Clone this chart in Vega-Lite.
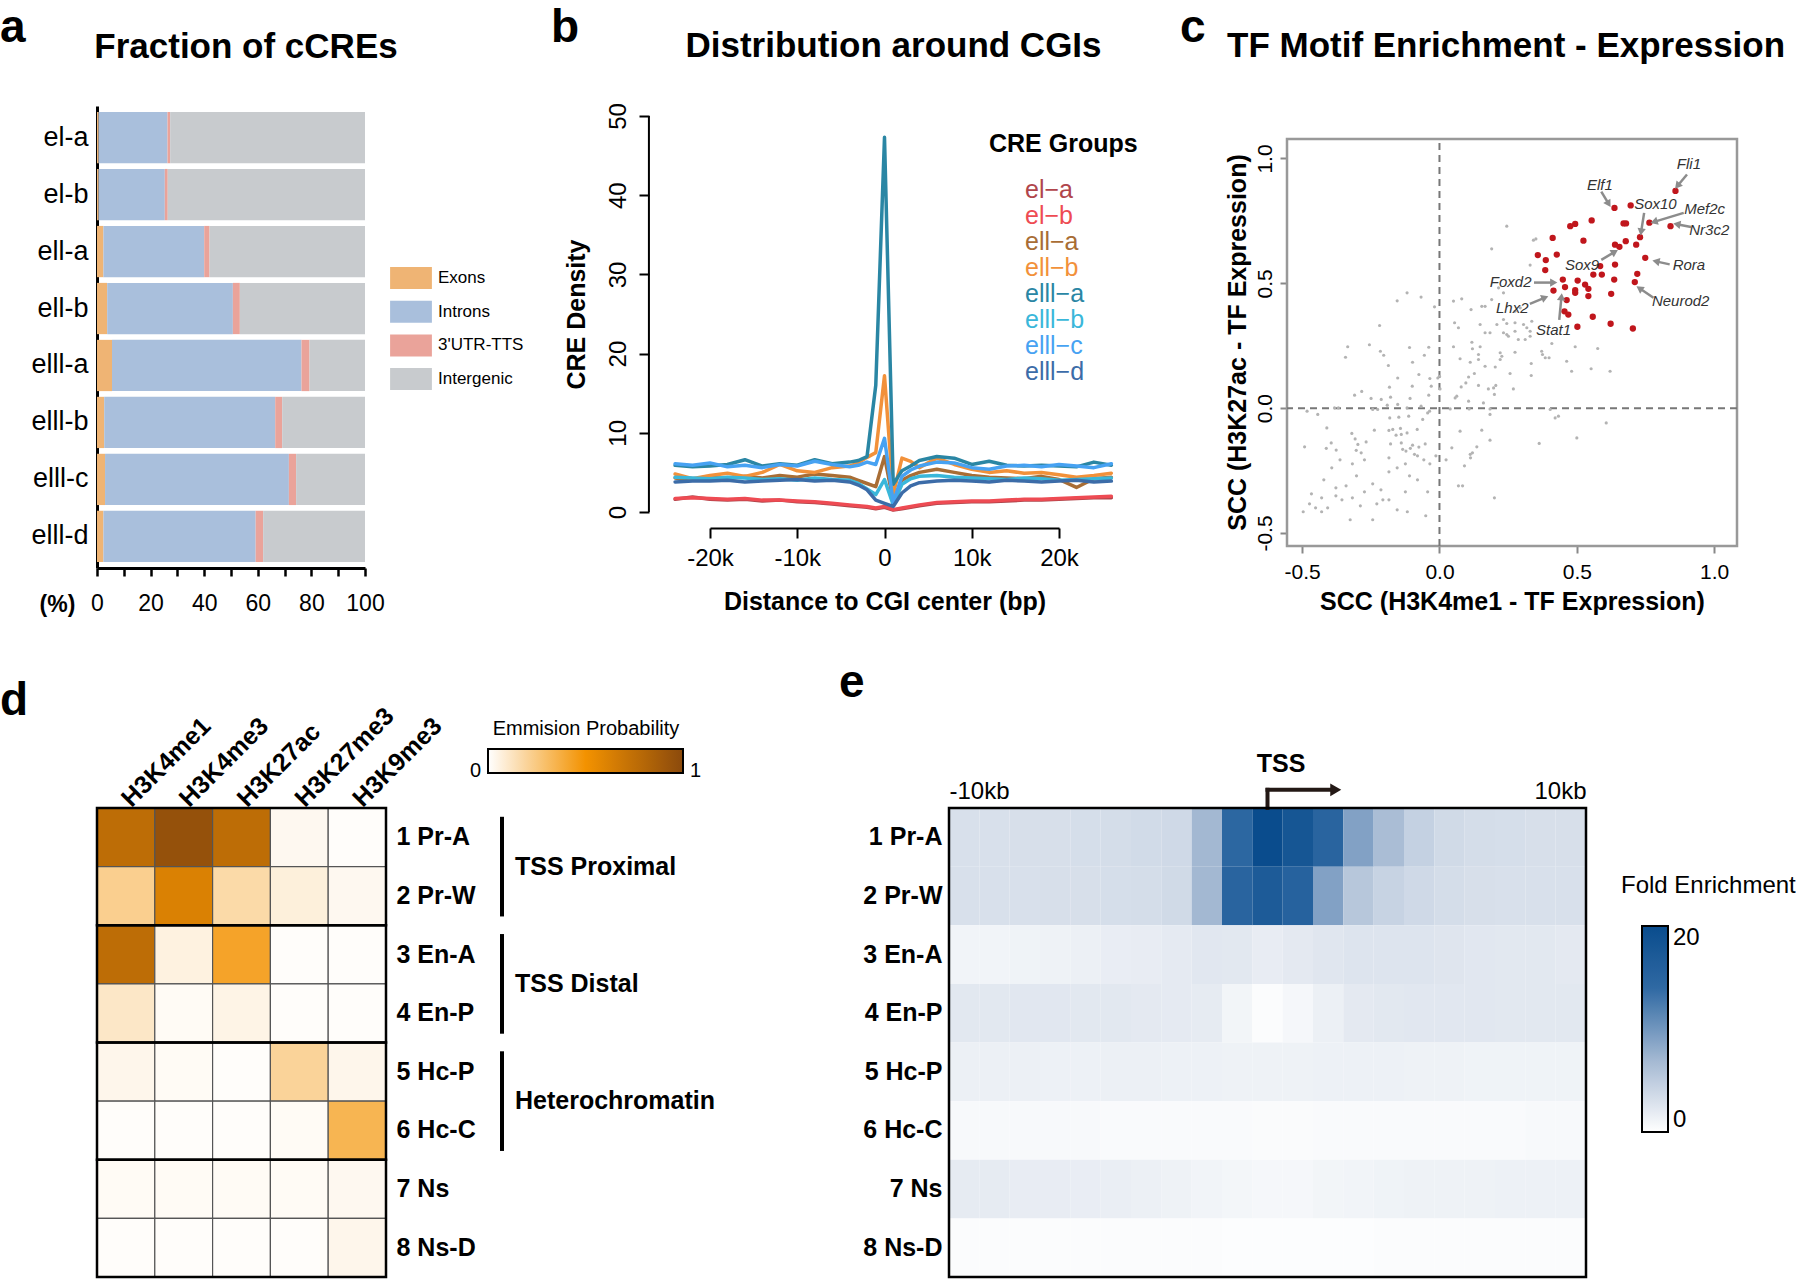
{
"$schema": "https://vega.github.io/schema/vega-lite/v6.json",
"background": "white",
"padding": {"left": 0, "top": 5, "right": 0, "bottom": 0},
"config": {
 "font": "Liberation Sans",
 "view": {"stroke": null},
 "axis": {"grid": false, "labelColor": "black", "titleColor": "black", "domainColor": "black", "tickColor": "black", "labelFont": "Liberation Sans", "titleFont": "Liberation Sans"},
 "legend": {"labelFont": "Liberation Sans", "titleFont": "Liberation Sans", "labelColor": "black", "titleColor": "black", "titleLimit": 400},
 "title": {"font": "Liberation Sans", "color": "black"}
},
"datasets": {
 "a": [
  {"group":"el-a","region":"Exons","pct":0.6},{"group":"el-a","region":"Introns","pct":25.7},{"group":"el-a","region":"3'UTR-TTS","pct":1.0},{"group":"el-a","region":"Intergenic","pct":72.7},
  {"group":"el-b","region":"Exons","pct":0.6},{"group":"el-b","region":"Introns","pct":24.7},{"group":"el-b","region":"3'UTR-TTS","pct":1.1},{"group":"el-b","region":"Intergenic","pct":73.6},
  {"group":"ell-a","region":"Exons","pct":2.4},{"group":"ell-a","region":"Introns","pct":37.6},{"group":"ell-a","region":"3'UTR-TTS","pct":2.0},{"group":"ell-a","region":"Intergenic","pct":58.0},
  {"group":"ell-b","region":"Exons","pct":3.8},{"group":"ell-b","region":"Introns","pct":46.9},{"group":"ell-b","region":"3'UTR-TTS","pct":2.6},{"group":"ell-b","region":"Intergenic","pct":46.7},
  {"group":"elll-a","region":"Exons","pct":5.6},{"group":"elll-a","region":"Introns","pct":70.7},{"group":"elll-a","region":"3'UTR-TTS","pct":3.0},{"group":"elll-a","region":"Intergenic","pct":20.7},
  {"group":"elll-b","region":"Exons","pct":2.7},{"group":"elll-b","region":"Introns","pct":63.8},{"group":"elll-b","region":"3'UTR-TTS","pct":2.6},{"group":"elll-b","region":"Intergenic","pct":30.9},
  {"group":"elll-c","region":"Exons","pct":3.0},{"group":"elll-c","region":"Introns","pct":68.6},{"group":"elll-c","region":"3'UTR-TTS","pct":2.7},{"group":"elll-c","region":"Intergenic","pct":25.7},
  {"group":"elll-d","region":"Exons","pct":2.4},{"group":"elll-d","region":"Introns","pct":56.8},{"group":"elll-d","region":"3'UTR-TTS","pct":2.8},{"group":"elll-d","region":"Intergenic","pct":38.0}
 ],
 "b": [
  {"g":"el−a","x":-24000,"y":1.6},{"g":"el−a","x":-22000,"y":1.9},{"g":"el−a","x":-20000,"y":1.6},{"g":"el−a","x":-18000,"y":1.5},{"g":"el−a","x":-16000,"y":1.6},{"g":"el−a","x":-14000,"y":1.4},{"g":"el−a","x":-12000,"y":1.5},{"g":"el−a","x":-10000,"y":1.3},{"g":"el−a","x":-8000,"y":1.2},{"g":"el−a","x":-6000,"y":1.0},{"g":"el−a","x":-4000,"y":0.8},{"g":"el−a","x":-3000,"y":0.7},{"g":"el−a","x":-2000,"y":0.6},{"g":"el−a","x":-1000,"y":0.4},{"g":"el−a","x":0,"y":0.6},{"g":"el−a","x":1000,"y":0.25},{"g":"el−a","x":2000,"y":0.4},{"g":"el−a","x":3000,"y":0.6},{"g":"el−a","x":4000,"y":0.8},{"g":"el−a","x":6000,"y":1.1},{"g":"el−a","x":8000,"y":1.2},{"g":"el−a","x":10000,"y":1.3},{"g":"el−a","x":12000,"y":1.3},{"g":"el−a","x":14000,"y":1.4},{"g":"el−a","x":16000,"y":1.5},{"g":"el−a","x":18000,"y":1.5},{"g":"el−a","x":20000,"y":1.6},{"g":"el−a","x":22000,"y":1.7},{"g":"el−a","x":24000,"y":1.8},{"g":"el−a","x":26000,"y":1.8},
  {"g":"el−b","x":-24000,"y":1.7},{"g":"el−b","x":-22000,"y":1.8},{"g":"el−b","x":-20000,"y":1.7},{"g":"el−b","x":-18000,"y":1.6},{"g":"el−b","x":-16000,"y":1.7},{"g":"el−b","x":-14000,"y":1.5},{"g":"el−b","x":-12000,"y":1.5},{"g":"el−b","x":-10000,"y":1.4},{"g":"el−b","x":-8000,"y":1.3},{"g":"el−b","x":-6000,"y":1.1},{"g":"el−b","x":-4000,"y":0.9},{"g":"el−b","x":-3000,"y":0.8},{"g":"el−b","x":-2000,"y":0.7},{"g":"el−b","x":-1000,"y":0.5},{"g":"el−b","x":0,"y":0.7},{"g":"el−b","x":1000,"y":0.3},{"g":"el−b","x":2000,"y":0.5},{"g":"el−b","x":3000,"y":0.7},{"g":"el−b","x":4000,"y":0.9},{"g":"el−b","x":6000,"y":1.2},{"g":"el−b","x":8000,"y":1.3},{"g":"el−b","x":10000,"y":1.4},{"g":"el−b","x":12000,"y":1.4},{"g":"el−b","x":14000,"y":1.5},{"g":"el−b","x":16000,"y":1.6},{"g":"el−b","x":18000,"y":1.6},{"g":"el−b","x":20000,"y":1.7},{"g":"el−b","x":22000,"y":1.8},{"g":"el−b","x":24000,"y":1.9},{"g":"el−b","x":26000,"y":2.0},
  {"g":"ell−a","x":-24000,"y":4.3},{"g":"ell−a","x":-22000,"y":4.0},{"g":"ell−a","x":-20000,"y":4.4},{"g":"ell−a","x":-18000,"y":4.2},{"g":"ell−a","x":-16000,"y":4.5},{"g":"ell−a","x":-14000,"y":4.3},{"g":"ell−a","x":-12000,"y":4.6},{"g":"ell−a","x":-10000,"y":4.4},{"g":"ell−a","x":-8000,"y":4.8},{"g":"ell−a","x":-6000,"y":4.6},{"g":"ell−a","x":-4000,"y":4.4},{"g":"ell−a","x":-3000,"y":4.0},{"g":"ell−a","x":-2000,"y":3.6},{"g":"ell−a","x":-1000,"y":3.2},{"g":"ell−a","x":0,"y":7.0},{"g":"ell−a","x":1000,"y":1.4},{"g":"ell−a","x":2000,"y":4.0},{"g":"ell−a","x":3000,"y":4.6},{"g":"ell−a","x":4000,"y":5.0},{"g":"ell−a","x":6000,"y":5.4},{"g":"ell−a","x":8000,"y":5.0},{"g":"ell−a","x":10000,"y":4.6},{"g":"ell−a","x":12000,"y":4.4},{"g":"ell−a","x":14000,"y":4.3},{"g":"ell−a","x":16000,"y":4.2},{"g":"ell−a","x":18000,"y":4.5},{"g":"ell−a","x":20000,"y":4.1},{"g":"ell−a","x":22000,"y":3.1},{"g":"ell−a","x":24000,"y":4.2},{"g":"ell−a","x":26000,"y":4.4},
  {"g":"ell−b","x":-24000,"y":4.8},{"g":"ell−b","x":-22000,"y":4.2},{"g":"ell−b","x":-20000,"y":4.6},{"g":"ell−b","x":-18000,"y":4.9},{"g":"ell−b","x":-16000,"y":4.5},{"g":"ell−b","x":-14000,"y":5.0},{"g":"ell−b","x":-12000,"y":6.0},{"g":"ell−b","x":-10000,"y":5.2},{"g":"ell−b","x":-8000,"y":5.0},{"g":"ell−b","x":-6000,"y":5.6},{"g":"ell−b","x":-4000,"y":5.8},{"g":"ell−b","x":-3000,"y":6.2},{"g":"ell−b","x":-2000,"y":6.9},{"g":"ell−b","x":-1000,"y":7.5},{"g":"ell−b","x":0,"y":17.2},{"g":"ell−b","x":1000,"y":2.2},{"g":"ell−b","x":2000,"y":6.8},{"g":"ell−b","x":3000,"y":6.4},{"g":"ell−b","x":4000,"y":5.6},{"g":"ell−b","x":6000,"y":6.8},{"g":"ell−b","x":8000,"y":6.0},{"g":"ell−b","x":10000,"y":5.4},{"g":"ell−b","x":12000,"y":5.0},{"g":"ell−b","x":14000,"y":5.2},{"g":"ell−b","x":16000,"y":4.9},{"g":"ell−b","x":18000,"y":5.0},{"g":"ell−b","x":20000,"y":4.7},{"g":"ell−b","x":22000,"y":4.4},{"g":"ell−b","x":24000,"y":4.6},{"g":"ell−b","x":26000,"y":4.9},
  {"g":"elll−a","x":-24000,"y":5.9},{"g":"elll−a","x":-22000,"y":5.7},{"g":"elll−a","x":-20000,"y":5.8},{"g":"elll−a","x":-18000,"y":6.0},{"g":"elll−a","x":-16000,"y":6.6},{"g":"elll−a","x":-14000,"y":5.8},{"g":"elll−a","x":-12000,"y":6.1},{"g":"elll−a","x":-10000,"y":5.9},{"g":"elll−a","x":-8000,"y":6.6},{"g":"elll−a","x":-6000,"y":6.1},{"g":"elll−a","x":-4000,"y":6.3},{"g":"elll−a","x":-3000,"y":6.5},{"g":"elll−a","x":-2000,"y":7.0},{"g":"elll−a","x":-1000,"y":16.0},{"g":"elll−a","x":0,"y":47.3},{"g":"elll−a","x":1000,"y":3.5},{"g":"elll−a","x":2000,"y":5.2},{"g":"elll−a","x":3000,"y":5.8},{"g":"elll−a","x":4000,"y":6.5},{"g":"elll−a","x":6000,"y":7.0},{"g":"elll−a","x":8000,"y":6.8},{"g":"elll−a","x":10000,"y":6.0},{"g":"elll−a","x":12000,"y":6.4},{"g":"elll−a","x":14000,"y":5.9},{"g":"elll−a","x":16000,"y":5.8},{"g":"elll−a","x":18000,"y":5.9},{"g":"elll−a","x":20000,"y":5.8},{"g":"elll−a","x":22000,"y":5.7},{"g":"elll−a","x":24000,"y":6.3},{"g":"elll−a","x":26000,"y":5.9},
  {"g":"elll−b","x":-24000,"y":4.4},{"g":"elll−b","x":-22000,"y":4.3},{"g":"elll−b","x":-20000,"y":4.2},{"g":"elll−b","x":-18000,"y":4.4},{"g":"elll−b","x":-16000,"y":4.3},{"g":"elll−b","x":-14000,"y":4.1},{"g":"elll−b","x":-12000,"y":4.2},{"g":"elll−b","x":-10000,"y":4.0},{"g":"elll−b","x":-8000,"y":4.3},{"g":"elll−b","x":-6000,"y":4.1},{"g":"elll−b","x":-4000,"y":4.0},{"g":"elll−b","x":-3000,"y":3.6},{"g":"elll−b","x":-2000,"y":2.9},{"g":"elll−b","x":-1000,"y":2.2},{"g":"elll−b","x":0,"y":4.1},{"g":"elll−b","x":1000,"y":0.9},{"g":"elll−b","x":2000,"y":3.5},{"g":"elll−b","x":3000,"y":4.2},{"g":"elll−b","x":4000,"y":4.5},{"g":"elll−b","x":6000,"y":4.6},{"g":"elll−b","x":8000,"y":4.4},{"g":"elll−b","x":10000,"y":4.3},{"g":"elll−b","x":12000,"y":4.2},{"g":"elll−b","x":14000,"y":4.1},{"g":"elll−b","x":16000,"y":4.3},{"g":"elll−b","x":18000,"y":4.2},{"g":"elll−b","x":20000,"y":4.0},{"g":"elll−b","x":22000,"y":4.1},{"g":"elll−b","x":24000,"y":4.2},{"g":"elll−b","x":26000,"y":4.3},
  {"g":"elll−c","x":-24000,"y":6.1},{"g":"elll−c","x":-22000,"y":5.9},{"g":"elll−c","x":-20000,"y":6.2},{"g":"elll−c","x":-18000,"y":5.7},{"g":"elll−c","x":-16000,"y":5.9},{"g":"elll−c","x":-14000,"y":5.6},{"g":"elll−c","x":-12000,"y":6.0},{"g":"elll−c","x":-10000,"y":5.8},{"g":"elll−c","x":-8000,"y":6.4},{"g":"elll−c","x":-6000,"y":6.0},{"g":"elll−c","x":-4000,"y":5.7},{"g":"elll−c","x":-3000,"y":5.9},{"g":"elll−c","x":-2000,"y":6.3},{"g":"elll−c","x":-1000,"y":6.0},{"g":"elll−c","x":0,"y":9.3},{"g":"elll−c","x":1000,"y":1.2},{"g":"elll−c","x":2000,"y":4.5},{"g":"elll−c","x":3000,"y":5.3},{"g":"elll−c","x":4000,"y":5.8},{"g":"elll−c","x":6000,"y":6.3},{"g":"elll−c","x":8000,"y":6.2},{"g":"elll−c","x":10000,"y":5.6},{"g":"elll−c","x":12000,"y":5.4},{"g":"elll−c","x":14000,"y":5.8},{"g":"elll−c","x":16000,"y":5.9},{"g":"elll−c","x":18000,"y":5.7},{"g":"elll−c","x":20000,"y":6.0},{"g":"elll−c","x":22000,"y":5.8},{"g":"elll−c","x":24000,"y":5.6},{"g":"elll−c","x":26000,"y":6.1},
  {"g":"elll−d","x":-24000,"y":3.8},{"g":"elll−d","x":-22000,"y":3.9},{"g":"elll−d","x":-20000,"y":3.9},{"g":"elll−d","x":-18000,"y":4.0},{"g":"elll−d","x":-16000,"y":3.8},{"g":"elll−d","x":-14000,"y":3.9},{"g":"elll−d","x":-12000,"y":4.0},{"g":"elll−d","x":-10000,"y":4.1},{"g":"elll−d","x":-8000,"y":3.9},{"g":"elll−d","x":-6000,"y":4.0},{"g":"elll−d","x":-4000,"y":3.8},{"g":"elll−d","x":-3000,"y":3.4},{"g":"elll−d","x":-2000,"y":2.8},{"g":"elll−d","x":-1000,"y":1.5},{"g":"elll−d","x":0,"y":1.1},{"g":"elll−d","x":1000,"y":0.7},{"g":"elll−d","x":2000,"y":2.4},{"g":"elll−d","x":3000,"y":3.3},{"g":"elll−d","x":4000,"y":3.7},{"g":"elll−d","x":6000,"y":3.9},{"g":"elll−d","x":8000,"y":4.0},{"g":"elll−d","x":10000,"y":3.9},{"g":"elll−d","x":12000,"y":3.8},{"g":"elll−d","x":14000,"y":4.0},{"g":"elll−d","x":16000,"y":3.9},{"g":"elll−d","x":18000,"y":3.8},{"g":"elll−d","x":20000,"y":3.9},{"g":"elll−d","x":22000,"y":4.0},{"g":"elll−d","x":24000,"y":3.8},{"g":"elll−d","x":26000,"y":3.9}
 ],
 "cgray": [
  {"x":-0.118,"y":0.462},{"x":-0.154,"y":0.430},{"x":-0.067,"y":0.445},{"x":-0.018,"y":0.406},{"x":-0.218,"y":0.331},{"x":-0.334,"y":0.246},{"x":-0.342,"y":0.204},{"x":-0.255,"y":0.254},{"x":-0.215,"y":0.228},{"x":-0.203,"y":0.212},{"x":-0.109,"y":0.243},{"x":-0.039,"y":0.244},{"x":-0.055,"y":0.212},{"x":-0.186,"y":0.171},{"x":-0.098,"y":0.184},{"x":-0.152,"y":0.121},{"x":-0.075,"y":0.135},{"x":-0.035,"y":0.119},{"x":-0.006,"y":0.121},{"x":0.0,"y":0.128},{"x":-0.182,"y":0.084},{"x":-0.099,"y":0.088},{"x":-0.030,"y":0.088},{"x":-0.309,"y":0.052},{"x":-0.283,"y":0.067},{"x":-0.249,"y":0.039},{"x":-0.212,"y":0.035},{"x":-0.178,"y":0.044},{"x":-0.107,"y":0.039},{"x":-0.039,"y":0.052},{"x":0.002,"y":0.077},{"x":-0.482,"y":-0.012},{"x":-0.443,"y":-0.025},{"x":-0.382,"y":0.001},{"x":-0.368,"y":0.001},{"x":-0.243,"y":-0.005},{"x":-0.225,"y":-0.005},{"x":-0.190,"y":0.012},{"x":-0.152,"y":0.015},{"x":-0.118,"y":0.001},{"x":-0.067,"y":0.008},{"x":-0.043,"y":-0.019},{"x":-0.036,"y":-0.012},{"x":-0.181,"y":-0.039},{"x":-0.148,"y":-0.036},{"x":-0.112,"y":-0.032},{"x":-0.410,"y":-0.079},{"x":-0.319,"y":-0.101},{"x":-0.237,"y":-0.088},{"x":-0.184,"y":-0.089},{"x":-0.170,"y":-0.085},{"x":-0.142,"y":-0.081},{"x":-0.158,"y":-0.108},{"x":-0.139,"y":-0.105},{"x":-0.118,"y":-0.099},{"x":-0.081,"y":-0.085},{"x":-0.061,"y":-0.045},{"x":-0.394,"y":-0.139},{"x":-0.412,"y":-0.161},{"x":-0.376,"y":-0.168},{"x":-0.491,"y":-0.155},{"x":-0.307,"y":-0.123},{"x":-0.297,"y":-0.145},{"x":-0.267,"y":-0.135},{"x":-0.178,"y":-0.143},{"x":-0.139,"y":-0.139},{"x":-0.134,"y":-0.165},{"x":-0.106,"y":-0.161},{"x":-0.098,"y":-0.148},{"x":-0.075,"y":-0.156},{"x":-0.052,"y":-0.143},{"x":-0.303,"y":-0.169},{"x":-0.285,"y":-0.179},{"x":-0.122,"y":-0.172},{"x":-0.091,"y":-0.185},
  {"x":0.051,"y":0.429},{"x":0.081,"y":0.438},{"x":0.190,"y":0.435},{"x":0.215,"y":0.482},{"x":0.233,"y":0.462},{"x":0.154,"y":0.408},{"x":0.166,"y":0.408},{"x":0.115,"y":0.395},{"x":0.275,"y":0.388},{"x":0.294,"y":0.402},{"x":0.055,"y":0.342},{"x":0.069,"y":0.322},{"x":0.148,"y":0.335},{"x":0.209,"y":0.335},{"x":0.233,"y":0.355},{"x":0.245,"y":0.339},{"x":0.275,"y":0.342},{"x":0.306,"y":0.335},{"x":0.336,"y":0.348},{"x":0.318,"y":0.322},{"x":0.166,"y":0.302},{"x":0.184,"y":0.302},{"x":0.233,"y":0.302},{"x":0.275,"y":0.308},{"x":0.330,"y":0.308},{"x":0.245,"y":0.295},{"x":0.251,"y":0.288},{"x":0.287,"y":0.275},{"x":0.312,"y":0.275},{"x":0.330,"y":0.288},{"x":0.051,"y":0.246},{"x":0.118,"y":0.264},{"x":0.120,"y":0.238},{"x":0.148,"y":0.246},{"x":0.275,"y":0.224},{"x":0.372,"y":0.228},{"x":0.375,"y":0.215},{"x":0.385,"y":0.202},{"x":0.399,"y":0.202},{"x":0.409,"y":0.259},{"x":0.494,"y":0.246},{"x":0.576,"y":0.239},{"x":0.075,"y":0.198},{"x":0.112,"y":0.184},{"x":0.142,"y":0.215},{"x":0.142,"y":0.195},{"x":0.221,"y":0.222},{"x":0.227,"y":0.208},{"x":0.221,"y":0.195},{"x":0.166,"y":0.168},{"x":0.203,"y":0.165},{"x":0.257,"y":0.139},{"x":0.334,"y":0.179},{"x":0.334,"y":0.131},{"x":0.463,"y":0.188},{"x":0.481,"y":0.148},{"x":0.552,"y":0.158},{"x":0.621,"y":0.148},{"x":0.127,"y":0.139},{"x":0.106,"y":0.125},{"x":0.096,"y":0.101},{"x":0.079,"y":0.085},{"x":0.142,"y":0.091},{"x":0.178,"y":0.077},{"x":0.197,"y":0.081},{"x":0.205,"y":0.091},{"x":0.269,"y":0.077},{"x":0.200,"y":0.055},{"x":0.057,"y":0.041},{"x":0.063,"y":0.048},{"x":0.106,"y":0.028},{"x":0.160,"y":0.021},{"x":0.184,"y":-0.003},{"x":0.184,"y":-0.025},{"x":0.039,"y":-0.003},{"x":0.108,"y":-0.003},{"x":0.403,"y":-0.005},{"x":0.421,"y":-0.039},{"x":0.433,"y":-0.032},{"x":0.075,"y":-0.092},{"x":0.154,"y":-0.088},{"x":0.184,"y":-0.128},{"x":0.363,"y":-0.141},{"x":0.500,"y":-0.119},{"x":0.607,"y":-0.059},{"x":0.045,"y":-0.159},{"x":0.136,"y":-0.155},{"x":0.112,"y":-0.185},{"x":0.120,"y":-0.179},
  {"x":0.245,"y":0.729},{"x":0.190,"y":0.638},{"x":0.351,"y":0.678},{"x":0.342,"y":0.673},{"x":0.330,"y":0.573},
  {"x":-0.080,"y":-0.191},{"x":-0.057,"y":-0.207},{"x":-0.035,"y":-0.223},{"x":-0.013,"y":-0.191},{"x":-0.124,"y":-0.223},{"x":-0.184,"y":-0.199},{"x":-0.273,"y":-0.207},{"x":-0.317,"y":-0.223},{"x":-0.362,"y":-0.207},{"x":-0.392,"y":-0.239},{"x":-0.421,"y":-0.287},{"x":-0.377,"y":-0.319},{"x":-0.340,"y":-0.311},{"x":-0.302,"y":-0.271},{"x":-0.273,"y":-0.335},{"x":-0.243,"y":-0.303},{"x":-0.213,"y":-0.327},{"x":-0.184,"y":-0.255},{"x":-0.154,"y":-0.239},{"x":-0.109,"y":-0.271},{"x":-0.080,"y":-0.287},{"x":-0.043,"y":-0.335},{"x":-0.124,"y":-0.335},{"x":-0.228,"y":-0.383},{"x":-0.288,"y":-0.391},{"x":-0.317,"y":-0.359},{"x":-0.355,"y":-0.367},{"x":-0.377,"y":-0.351},{"x":-0.429,"y":-0.359},{"x":-0.466,"y":-0.343},{"x":-0.473,"y":-0.383},{"x":-0.451,"y":-0.399},{"x":-0.429,"y":-0.415},{"x":-0.407,"y":-0.399},{"x":-0.496,"y":-0.415},{"x":-0.325,"y":-0.447},{"x":-0.243,"y":-0.447},{"x":-0.206,"y":-0.367},{"x":-0.184,"y":-0.367},{"x":-0.154,"y":-0.407},{"x":-0.117,"y":-0.415},{"x":-0.050,"y":-0.431},{"x":0.024,"y":-0.207},{"x":0.091,"y":-0.231},{"x":0.113,"y":-0.199},{"x":0.084,"y":-0.311},{"x":0.069,"y":-0.311},{"x":0.200,"y":-0.359}
 ],
 "cred": [
  {"x":0.859,"y":0.870},{"x":0.637,"y":0.802},{"x":0.696,"y":0.812},{"x":0.554,"y":0.752},{"x":0.476,"y":0.729},{"x":0.494,"y":0.738},{"x":0.670,"y":0.740},{"x":0.679,"y":0.740},{"x":0.764,"y":0.743},{"x":0.841,"y":0.729},{"x":0.730,"y":0.685},{"x":0.412,"y":0.682},{"x":0.524,"y":0.671},{"x":0.678,"y":0.669},{"x":0.639,"y":0.655},{"x":0.655,"y":0.646},{"x":0.716,"y":0.655},{"x":0.358,"y":0.613},{"x":0.387,"y":0.593},{"x":0.427,"y":0.615},{"x":0.749,"y":0.602},{"x":0.385,"y":0.553},{"x":0.585,"y":0.569},{"x":0.639,"y":0.575},{"x":0.720,"y":0.538},{"x":0.449,"y":0.515},{"x":0.503,"y":0.511},{"x":0.530,"y":0.495},{"x":0.636,"y":0.515},{"x":0.560,"y":0.535},{"x":0.591,"y":0.535},{"x":0.711,"y":0.505},{"x":0.415,"y":0.471},{"x":0.457,"y":0.485},{"x":0.494,"y":0.473},{"x":0.494,"y":0.462},{"x":0.542,"y":0.478},{"x":0.542,"y":0.449},{"x":0.625,"y":0.458},{"x":0.463,"y":0.433},{"x":0.455,"y":0.388},{"x":0.469,"y":0.375},{"x":0.558,"y":0.366},{"x":0.502,"y":0.326},{"x":0.623,"y":0.338},{"x":0.704,"y":0.319}
 ],
 "clab": [
  {"gene":"Fli1","lx":0.908,"ly":0.979,"x1":0.901,"y1":0.936,"x2":0.866,"y2":0.890},
  {"gene":"Elf1","lx":0.584,"ly":0.895,"x1":0.589,"y1":0.867,"x2":0.616,"y2":0.818},
  {"gene":"Sox10","lx":0.786,"ly":0.816,"x1":0.745,"y1":0.782,"x2":0.734,"y2":0.706},
  {"gene":"Mef2c","lx":0.965,"ly":0.797,"x1":0.889,"y1":0.782,"x2":0.781,"y2":0.746},
  {"gene":"Nr3c2","lx":0.982,"ly":0.713,"x1":0.916,"y1":0.726,"x2":0.864,"y2":0.737},
  {"gene":"Rora","lx":0.908,"ly":0.574,"x1":0.838,"y1":0.576,"x2":0.788,"y2":0.588},
  {"gene":"Neurod2","lx":0.878,"ly":0.431,"x1":0.779,"y1":0.442,"x2":0.728,"y2":0.480},
  {"gene":"Sox9","lx":0.519,"ly":0.575,"x1":0.589,"y1":0.594,"x2":0.638,"y2":0.626},
  {"gene":"Foxd2","lx":0.259,"ly":0.505,"x1":0.344,"y1":0.503,"x2":0.416,"y2":0.503},
  {"gene":"Lhx2","lx":0.265,"ly":0.401,"x1":0.329,"y1":0.418,"x2":0.384,"y2":0.443},
  {"gene":"Stat1","lx":0.415,"ly":0.312,"x1":0.436,"y1":0.354,"x2":0.444,"y2":0.446}
 ],
 "d": [
  {"state":"1 Pr-A","mark":"H3K4me1","v":0.76},{"state":"1 Pr-A","mark":"H3K4me3","v":0.95},{"state":"1 Pr-A","mark":"H3K27ac","v":0.76},{"state":"1 Pr-A","mark":"H3K27me3","v":0.03},{"state":"1 Pr-A","mark":"H3K9me3","v":0.01},
  {"state":"2 Pr-W","mark":"H3K4me1","v":0.22},{"state":"2 Pr-W","mark":"H3K4me3","v":0.62},{"state":"2 Pr-W","mark":"H3K27ac","v":0.17},{"state":"2 Pr-W","mark":"H3K27me3","v":0.07},{"state":"2 Pr-W","mark":"H3K9me3","v":0.03},
  {"state":"3 En-A","mark":"H3K4me1","v":0.76},{"state":"3 En-A","mark":"H3K4me3","v":0.06},{"state":"3 En-A","mark":"H3K27ac","v":0.42},{"state":"3 En-A","mark":"H3K27me3","v":0.01},{"state":"3 En-A","mark":"H3K9me3","v":0.01},
  {"state":"4 En-P","mark":"H3K4me1","v":0.11},{"state":"4 En-P","mark":"H3K4me3","v":0.02},{"state":"4 En-P","mark":"H3K27ac","v":0.05},{"state":"4 En-P","mark":"H3K27me3","v":0.01},{"state":"4 En-P","mark":"H3K9me3","v":0.01},
  {"state":"5 Hc-P","mark":"H3K4me1","v":0.04},{"state":"5 Hc-P","mark":"H3K4me3","v":0.02},{"state":"5 Hc-P","mark":"H3K27ac","v":0.01},{"state":"5 Hc-P","mark":"H3K27me3","v":0.2},{"state":"5 Hc-P","mark":"H3K9me3","v":0.04},
  {"state":"6 Hc-C","mark":"H3K4me1","v":0.01},{"state":"6 Hc-C","mark":"H3K4me3","v":0.01},{"state":"6 Hc-C","mark":"H3K27ac","v":0.01},{"state":"6 Hc-C","mark":"H3K27me3","v":0.02},{"state":"6 Hc-C","mark":"H3K9me3","v":0.34},
  {"state":"7 Ns","mark":"H3K4me1","v":0.02},{"state":"7 Ns","mark":"H3K4me3","v":0.02},{"state":"7 Ns","mark":"H3K27ac","v":0.02},{"state":"7 Ns","mark":"H3K27me3","v":0.02},{"state":"7 Ns","mark":"H3K9me3","v":0.03},
  {"state":"8 Ns-D","mark":"H3K4me1","v":0.01},{"state":"8 Ns-D","mark":"H3K4me3","v":0.01},{"state":"8 Ns-D","mark":"H3K27ac","v":0.01},{"state":"8 Ns-D","mark":"H3K27me3","v":0.01},{"state":"8 Ns-D","mark":"H3K9me3","v":0.04}
 ],
 "dbox": [{"grp":"TSS Proximal"},{"grp":"TSS Distal"},{"grp":"Heterochromatin"},{"grp":"Ns"}],
 "dlab": [{"grp":"TSS Proximal"},{"grp":"TSS Distal"},{"grp":"Heterochromatin"}],
 "e": [
  {"state":"1 Pr-A","pos":-10,"v":3.0},{"state":"1 Pr-A","pos":-9,"v":3.0},{"state":"1 Pr-A","pos":-8,"v":3.1},{"state":"1 Pr-A","pos":-7,"v":3.1},{"state":"1 Pr-A","pos":-6,"v":3.2},{"state":"1 Pr-A","pos":-5,"v":3.3},{"state":"1 Pr-A","pos":-4,"v":3.5},{"state":"1 Pr-A","pos":-3,"v":3.7},{"state":"1 Pr-A","pos":-2,"v":7.0},{"state":"1 Pr-A","pos":-1,"v":14.5},{"state":"1 Pr-A","pos":0,"v":20.0},{"state":"1 Pr-A","pos":1,"v":18.0},{"state":"1 Pr-A","pos":2,"v":15.0},{"state":"1 Pr-A","pos":3,"v":9.0},{"state":"1 Pr-A","pos":4,"v":6.5},{"state":"1 Pr-A","pos":5,"v":4.5},{"state":"1 Pr-A","pos":6,"v":3.6},{"state":"1 Pr-A","pos":7,"v":3.3},{"state":"1 Pr-A","pos":8,"v":3.2},{"state":"1 Pr-A","pos":9,"v":3.1},{"state":"1 Pr-A","pos":10,"v":3.1},
  {"state":"2 Pr-W","pos":-10,"v":3.0},{"state":"2 Pr-W","pos":-9,"v":3.0},{"state":"2 Pr-W","pos":-8,"v":3.0},{"state":"2 Pr-W","pos":-7,"v":3.1},{"state":"2 Pr-W","pos":-6,"v":3.1},{"state":"2 Pr-W","pos":-5,"v":3.2},{"state":"2 Pr-W","pos":-4,"v":3.3},{"state":"2 Pr-W","pos":-3,"v":3.6},{"state":"2 Pr-W","pos":-2,"v":7.0},{"state":"2 Pr-W","pos":-1,"v":15.0},{"state":"2 Pr-W","pos":0,"v":17.0},{"state":"2 Pr-W","pos":1,"v":15.5},{"state":"2 Pr-W","pos":2,"v":9.0},{"state":"2 Pr-W","pos":3,"v":5.5},{"state":"2 Pr-W","pos":4,"v":4.3},{"state":"2 Pr-W","pos":5,"v":3.7},{"state":"2 Pr-W","pos":6,"v":3.3},{"state":"2 Pr-W","pos":7,"v":3.1},{"state":"2 Pr-W","pos":8,"v":3.0},{"state":"2 Pr-W","pos":9,"v":3.0},{"state":"2 Pr-W","pos":10,"v":3.0},
  {"state":"3 En-A","pos":-10,"v":1.1},{"state":"3 En-A","pos":-9,"v":1.1},{"state":"3 En-A","pos":-8,"v":1.2},{"state":"3 En-A","pos":-7,"v":1.3},{"state":"3 En-A","pos":-6,"v":1.5},{"state":"3 En-A","pos":-5,"v":1.7},{"state":"3 En-A","pos":-4,"v":1.8},{"state":"3 En-A","pos":-3,"v":2.0},{"state":"3 En-A","pos":-2,"v":2.3},{"state":"3 En-A","pos":-1,"v":2.2},{"state":"3 En-A","pos":0,"v":1.8},{"state":"3 En-A","pos":1,"v":2.1},{"state":"3 En-A","pos":2,"v":2.4},{"state":"3 En-A","pos":3,"v":2.6},{"state":"3 En-A","pos":4,"v":2.6},{"state":"3 En-A","pos":5,"v":2.6},{"state":"3 En-A","pos":6,"v":2.5},{"state":"3 En-A","pos":7,"v":2.3},{"state":"3 En-A","pos":8,"v":2.2},{"state":"3 En-A","pos":9,"v":2.2},{"state":"3 En-A","pos":10,"v":2.1},
  {"state":"4 En-P","pos":-10,"v":2.2},{"state":"4 En-P","pos":-9,"v":2.2},{"state":"4 En-P","pos":-8,"v":2.3},{"state":"4 En-P","pos":-7,"v":2.3},{"state":"4 En-P","pos":-6,"v":2.2},{"state":"4 En-P","pos":-5,"v":2.2},{"state":"4 En-P","pos":-4,"v":2.1},{"state":"4 En-P","pos":-3,"v":2.0},{"state":"4 En-P","pos":-2,"v":1.9},{"state":"4 En-P","pos":-1,"v":1.0},{"state":"4 En-P","pos":0,"v":0.3},{"state":"4 En-P","pos":1,"v":0.8},{"state":"4 En-P","pos":2,"v":1.5},{"state":"4 En-P","pos":3,"v":2.1},{"state":"4 En-P","pos":4,"v":2.2},{"state":"4 En-P","pos":5,"v":2.3},{"state":"4 En-P","pos":6,"v":2.3},{"state":"4 En-P","pos":7,"v":2.3},{"state":"4 En-P","pos":8,"v":2.2},{"state":"4 En-P","pos":9,"v":2.2},{"state":"4 En-P","pos":10,"v":2.2},
  {"state":"5 Hc-P","pos":-10,"v":1.5},{"state":"5 Hc-P","pos":-9,"v":1.5},{"state":"5 Hc-P","pos":-8,"v":1.5},{"state":"5 Hc-P","pos":-7,"v":1.4},{"state":"5 Hc-P","pos":-6,"v":1.4},{"state":"5 Hc-P","pos":-5,"v":1.5},{"state":"5 Hc-P","pos":-4,"v":1.5},{"state":"5 Hc-P","pos":-3,"v":1.4},{"state":"5 Hc-P","pos":-2,"v":1.4},{"state":"5 Hc-P","pos":-1,"v":1.3},{"state":"5 Hc-P","pos":0,"v":1.3},{"state":"5 Hc-P","pos":1,"v":1.3},{"state":"5 Hc-P","pos":2,"v":1.4},{"state":"5 Hc-P","pos":3,"v":1.4},{"state":"5 Hc-P","pos":4,"v":1.4},{"state":"5 Hc-P","pos":5,"v":1.3},{"state":"5 Hc-P","pos":6,"v":1.3},{"state":"5 Hc-P","pos":7,"v":1.2},{"state":"5 Hc-P","pos":8,"v":1.2},{"state":"5 Hc-P","pos":9,"v":1.2},{"state":"5 Hc-P","pos":10,"v":1.2},
  {"state":"6 Hc-C","pos":-10,"v":0.6},{"state":"6 Hc-C","pos":-9,"v":0.6},{"state":"6 Hc-C","pos":-8,"v":0.6},{"state":"6 Hc-C","pos":-7,"v":0.6},{"state":"6 Hc-C","pos":-6,"v":0.6},{"state":"6 Hc-C","pos":-5,"v":0.5},{"state":"6 Hc-C","pos":-4,"v":0.5},{"state":"6 Hc-C","pos":-3,"v":0.5},{"state":"6 Hc-C","pos":-2,"v":0.5},{"state":"6 Hc-C","pos":-1,"v":0.5},{"state":"6 Hc-C","pos":0,"v":0.4},{"state":"6 Hc-C","pos":1,"v":0.4},{"state":"6 Hc-C","pos":2,"v":0.5},{"state":"6 Hc-C","pos":3,"v":0.5},{"state":"6 Hc-C","pos":4,"v":0.5},{"state":"6 Hc-C","pos":5,"v":0.5},{"state":"6 Hc-C","pos":6,"v":0.5},{"state":"6 Hc-C","pos":7,"v":0.5},{"state":"6 Hc-C","pos":8,"v":0.5},{"state":"6 Hc-C","pos":9,"v":0.6},{"state":"6 Hc-C","pos":10,"v":0.6},
  {"state":"7 Ns","pos":-10,"v":1.9},{"state":"7 Ns","pos":-9,"v":1.9},{"state":"7 Ns","pos":-8,"v":1.8},{"state":"7 Ns","pos":-7,"v":1.8},{"state":"7 Ns","pos":-6,"v":1.7},{"state":"7 Ns","pos":-5,"v":1.6},{"state":"7 Ns","pos":-4,"v":1.5},{"state":"7 Ns","pos":-3,"v":1.3},{"state":"7 Ns","pos":-2,"v":1.1},{"state":"7 Ns","pos":-1,"v":0.9},{"state":"7 Ns","pos":0,"v":0.8},{"state":"7 Ns","pos":1,"v":0.8},{"state":"7 Ns","pos":2,"v":1.0},{"state":"7 Ns","pos":3,"v":1.1},{"state":"7 Ns","pos":4,"v":1.2},{"state":"7 Ns","pos":5,"v":1.3},{"state":"7 Ns","pos":6,"v":1.3},{"state":"7 Ns","pos":7,"v":1.3},{"state":"7 Ns","pos":8,"v":1.4},{"state":"7 Ns","pos":9,"v":1.4},{"state":"7 Ns","pos":10,"v":1.4},
  {"state":"8 Ns-D","pos":-10,"v":0.3},{"state":"8 Ns-D","pos":-9,"v":0.3},{"state":"8 Ns-D","pos":-8,"v":0.3},{"state":"8 Ns-D","pos":-7,"v":0.3},{"state":"8 Ns-D","pos":-6,"v":0.3},{"state":"8 Ns-D","pos":-5,"v":0.3},{"state":"8 Ns-D","pos":-4,"v":0.3},{"state":"8 Ns-D","pos":-3,"v":0.3},{"state":"8 Ns-D","pos":-2,"v":0.3},{"state":"8 Ns-D","pos":-1,"v":0.2},{"state":"8 Ns-D","pos":0,"v":0.2},{"state":"8 Ns-D","pos":1,"v":0.2},{"state":"8 Ns-D","pos":2,"v":0.2},{"state":"8 Ns-D","pos":3,"v":0.2},{"state":"8 Ns-D","pos":4,"v":0.3},{"state":"8 Ns-D","pos":5,"v":0.3},{"state":"8 Ns-D","pos":6,"v":0.3},{"state":"8 Ns-D","pos":7,"v":0.3},{"state":"8 Ns-D","pos":8,"v":0.3},{"state":"8 Ns-D","pos":9,"v":0.3},{"state":"8 Ns-D","pos":10,"v":0.3}
 ]
},
"spacing": 44,
"resolve": {"scale": {"color": "independent"}, "legend": {"color": "independent"}},
"vconcat": [
 {
  "bounds": "flush",
  "spacing": 0,
  "resolve": {"scale": {"color": "independent"}, "legend": {"color": "independent"}},
  "hconcat": [
   {"width": 1, "height": 1, "data": {"values": [{}]}, "mark": {"type": "rect", "opacity": 0},
    "title": {"text": "a", "fontSize": 46, "fontWeight": "bold", "anchor": "start", "frame": "group", "baseline": "alphabetic", "offset": 18, "dx": -96}},
   {"width": 268, "height": 462,
    "data": {"name": "a"},
    "transform": [{"calculate": "indexof([\"Exons\",\"Introns\",\"3'UTR-TTS\",\"Intergenic\"], datum.region)", "as": "ord"}],
    "title": {"text": "Fraction of cCREs", "fontSize": 35, "fontWeight": "bold", "anchor": "middle", "frame": "group", "baseline": "alphabetic", "offset": 13.5, "dx": 15},
    "mark": {"type": "bar"},
    "encoding": {
     "y": {"field": "group", "type": "nominal", "sort": ["el-a","el-b","ell-a","ell-b","elll-a","elll-b","elll-c","elll-d"], "scale": {"paddingInner": 0.1, "paddingOuter": 0.105},
           "axis": {"title": null, "ticks": false, "domainWidth": 3, "labelFontSize": 27, "labelPadding": 9}},
     "x": {"field": "pct", "type": "quantitative", "stack": "zero", "scale": {"domain": [0, 100], "nice": false},
           "axis": {"values": [0,10,20,30,40,50,60,70,80,90,100], "labelExpr": "datum.value % 20 === 0 ? datum.label : ''", "labelFlush": false, "labelOverlap": false, "tickSize": 8, "tickWidth": 2.5, "domainWidth": 3, "labelFontSize": 23, "labelPadding": 16, "title": "(%)", "titleFontSize": 23, "titleFontWeight": "bold", "titleX": -40, "titleY": 36, "titleAlign": "center", "titleBaseline": "middle", "titleAngle": 0}},
     "order": {"field": "ord", "type": "quantitative"},
     "color": {"field": "region", "type": "nominal", "sort": ["Exons","Introns","3'UTR-TTS","Intergenic"],
               "scale": {"domain": ["Exons","Introns","3'UTR-TTS","Intergenic"], "range": ["#EFB474","#A9BFDC","#EAA39A","#C8CBCE"]},
               "legend": {"orient": "none", "legendX": 303, "legendY": 161, "title": null, "symbolType": "M-1.9,-1H1.9V1H-1.9Z", "symbolSize": 484, "symbolStrokeWidth": 0, "symbolOpacity": 1, "labelFontSize": 17, "labelOffset": 16, "rowPadding": 11.7, "padding": 0}}
    }
   },
   {"width": 345, "height": 1, "data": {"values": [{}]}, "mark": {"type": "rect", "opacity": 0},
    "title": {"text": "b", "fontSize": 46, "fontWeight": "bold", "anchor": "start", "frame": "group", "baseline": "alphabetic", "offset": 18, "dx": 186}},
   {"width": 349, "height": 406,
    "title": {"text": "Distribution around CGIs", "fontSize": 35, "fontWeight": "bold", "anchor": "middle", "frame": "group", "baseline": "alphabetic", "offset": 10.7, "dx": 9},
    "layer": [
     {"data": {"name": "b"},
      "mark": {"type": "line", "strokeWidth": 3.5, "strokeJoin": "round", "strokeCap": "round"},
      "encoding": {
       "x": {"field": "x", "type": "quantitative", "scale": {"domain": [-20000, 20000], "nice": false, "zero": false},
             "axis": {"values": [-20000,-10000,0,10000,20000], "labelExpr": "datum.value === 0 ? '0' : (datum.value / 1000) + 'k'", "labelFlush": false, "labelOverlap": false, "offset": 16, "tickSize": 10, "tickWidth": 2, "domainWidth": 2, "labelFontSize": 24, "labelPadding": 8, "title": "Distance to CGI center (bp)", "titleFontSize": 25, "titleFontWeight": "bold", "titlePadding": 19}},
       "y": {"field": "y", "type": "quantitative", "scale": {"domain": [0, 51.26], "nice": false},
             "axis": {"values": [0,10,20,30,40,50], "offset": 61, "domain": false, "labelFlush": false, "labelAngle": -90, "labelAlign": "center", "labelBaseline": "bottom", "tickSize": 10, "tickWidth": 2, "labelFontSize": 24, "labelPadding": 9, "title": "CRE Density", "titleFontSize": 25, "titleFontWeight": "bold", "titlePadding": 17, "titleY": 208}},
       "color": {"field": "g", "type": "nominal", "sort": ["el−a","el−b","ell−a","ell−b","elll−a","elll−b","elll−c","elll−d"],
                 "scale": {"domain": ["el−a","el−b","ell−a","ell−b","elll−a","elll−b","elll−c","elll−d"], "range": ["#B0454B","#EE4B53","#A86D35","#F2913A","#2A86A4","#3AB7DA","#47A2F2","#3C6CA8"]},
                 "legend": {"orient": "none", "legendX": 279, "legendY": 26, "title": "CRE Groups", "titleFontSize": 25, "titleFontWeight": "bold", "titlePadding": 20, "labelFontSize": 25, "symbolSize": 0, "symbolOpacity": 0, "symbolStrokeWidth": 0, "labelOffset": 11, "rowPadding": -5, "padding": 0,
                            "encode": {"labels": {"update": {"fill": {"signal": "['#B0454B','#EE4B53','#A86D35','#F2913A','#2A86A4','#3AB7DA','#47A2F2','#3C6CA8'][datum.index]"}}}}}}
      }},
     {"data": {"values": [{}]},
      "mark": {"type": "rule", "color": "black", "strokeWidth": 2},
      "encoding": {
       "x": {"datum": -27000, "type": "quantitative", "scale": {"domain": [-20000, 20000], "nice": false, "zero": false}},
       "y": {"datum": 0, "type": "quantitative", "scale": {"domain": [0, 51.26], "nice": false}},
       "y2": {"datum": 50}
      }}
    ]
   },
   {"width": 228, "height": 1, "data": {"values": [{}]}, "mark": {"type": "rect", "opacity": 0},
    "title": {"text": "c", "fontSize": 46, "fontWeight": "bold", "anchor": "start", "frame": "group", "baseline": "alphabetic", "offset": 18, "dx": 121}},
   {"width": 450, "height": 440,
    "title": {"text": "TF Motif Enrichment - Expression", "fontSize": 35, "fontWeight": "bold", "anchor": "start", "frame": "group", "baseline": "alphabetic", "offset": 14, "dx": -60},
    "layer": [
     {"data": {"values": [{}]}, "mark": {"type": "rect", "fillOpacity": 0, "stroke": "#999999", "strokeWidth": 2.5},
      "encoding": {"x": {"datum": -0.555, "type": "quantitative", "scale": {"domain": [-0.555, 1.083], "nice": false, "zero": false},
                         "axis": {"values": [-0.5, 0, 0.5, 1], "labelExpr": "datum.value < 0 ? '-' + format(-datum.value, '.1f') : format(datum.value, '.1f')", "labelFlush": false, "domain": false, "tickSize": 7, "tickWidth": 2, "tickColor": "#888888", "labelFontSize": 21, "labelPadding": 8, "title": "SCC (H3K4me1 - TF Expression)", "titleFontSize": 25, "titleFontWeight": "bold", "titlePadding": 7}},
                   "x2": {"datum": 1.083},
                   "y": {"datum": -0.552, "type": "quantitative", "scale": {"domain": [-0.552, 1.2102], "nice": false, "zero": false},
                         "axis": {"values": [-0.5, 0, 0.5, 1], "labelExpr": "datum.value < 0 ? '-' + format(-datum.value, '.1f') : format(datum.value, '.1f')", "labelFlush": false, "labelAngle": -90, "labelAlign": "center", "labelBaseline": "bottom", "domain": false, "tickSize": 7, "tickWidth": 2, "tickColor": "#888888", "labelFontSize": 21, "labelPadding": 5, "title": "SCC (H3K27ac - TF Expression)", "titleFontSize": 25, "titleFontWeight": "bold", "titlePadding": 4, "titleY": 236}},
                   "y2": {"datum": 1.078}}},
     {"data": {"values": [{}]}, "mark": {"type": "rule", "strokeDash": [7, 5], "color": "#777777", "strokeWidth": 2},
      "encoding": {"x": {"datum": 0, "type": "quantitative", "scale": {"domain": [-0.555, 1.083], "nice": false, "zero": false}},
                   "y": {"datum": -0.552, "type": "quantitative", "scale": {"domain": [-0.552, 1.2102], "nice": false, "zero": false}},
                   "y2": {"datum": 1.078}}},
     {"data": {"values": [{}]}, "mark": {"type": "rule", "strokeDash": [7, 5], "color": "#777777", "strokeWidth": 2},
      "encoding": {"y": {"datum": 0, "type": "quantitative", "scale": {"domain": [-0.552, 1.2102], "nice": false, "zero": false}}}},
     {"data": {"name": "cgray"}, "mark": {"type": "circle", "size": 10, "color": "#B3B3B3", "opacity": 1},
      "encoding": {"x": {"field": "x", "type": "quantitative", "scale": {"domain": [-0.555, 1.083], "nice": false, "zero": false}, "title": "SCC (H3K4me1 - TF Expression)"},
                   "y": {"field": "y", "type": "quantitative", "scale": {"domain": [-0.552, 1.2102], "nice": false, "zero": false}, "title": "SCC (H3K27ac - TF Expression)"}}},
     {"data": {"name": "cred"}, "mark": {"type": "circle", "size": 40, "color": "#C0161C", "opacity": 1},
      "encoding": {"x": {"field": "x", "type": "quantitative", "scale": {"domain": [-0.555, 1.083], "nice": false, "zero": false}, "title": "SCC (H3K4me1 - TF Expression)"},
                   "y": {"field": "y", "type": "quantitative", "scale": {"domain": [-0.552, 1.2102], "nice": false, "zero": false}, "title": "SCC (H3K27ac - TF Expression)"}}},
     {"data": {"name": "clab"}, "mark": {"type": "rule", "color": "#8C8C8C", "strokeWidth": 2.5},
      "encoding": {"x": {"field": "x1", "type": "quantitative", "scale": {"domain": [-0.555, 1.083], "nice": false, "zero": false}, "title": "SCC (H3K4me1 - TF Expression)"},
                   "y": {"field": "y1", "type": "quantitative", "scale": {"domain": [-0.552, 1.2102], "nice": false, "zero": false}, "title": "SCC (H3K27ac - TF Expression)"},
                   "x2": {"field": "x2"}, "y2": {"field": "y2"}}},
     {"data": {"name": "clab"},
      "transform": [{"calculate": "atan2((datum.x2 - datum.x1) * 274.8, (datum.y2 - datum.y1) * 249.7) * 180 / PI", "as": "ang"}],
      "mark": {"type": "point", "shape": "triangle-up", "filled": true, "color": "#8C8C8C", "size": 70, "opacity": 1},
      "encoding": {"x": {"field": "x2", "type": "quantitative", "scale": {"domain": [-0.555, 1.083], "nice": false, "zero": false}, "title": "SCC (H3K4me1 - TF Expression)"},
                   "y": {"field": "y2", "type": "quantitative", "scale": {"domain": [-0.552, 1.2102], "nice": false, "zero": false}, "title": "SCC (H3K27ac - TF Expression)"},
                   "angle": {"field": "ang", "type": "quantitative", "scale": null}}},
     {"data": {"name": "clab"}, "mark": {"type": "text", "fontStyle": "italic", "fontSize": 15, "color": "#333333", "align": "center", "baseline": "middle"},
      "encoding": {"x": {"field": "lx", "type": "quantitative", "scale": {"domain": [-0.555, 1.083], "nice": false, "zero": false}, "title": "SCC (H3K4me1 - TF Expression)"},
                   "y": {"field": "ly", "type": "quantitative", "scale": {"domain": [-0.552, 1.2102], "nice": false, "zero": false}, "title": "SCC (H3K27ac - TF Expression)"},
                   "text": {"field": "gene"}}}
    ]
   }
  ]
 },
 {
  "bounds": "flush",
  "spacing": 0,
  "resolve": {"scale": {"color": "independent"}, "legend": {"color": "independent"}},
  "hconcat": [
   {"width": 1, "height": 1, "data": {"values": [{}]}, "mark": {"type": "rect", "opacity": 0},
    "title": {"text": "d", "fontSize": 46, "fontWeight": "bold", "anchor": "start", "frame": "group", "baseline": "alphabetic", "offset": 47, "dx": -96}},
   {"width": 289, "height": 469,
    "layer": [
     {"data": {"name": "d"}, "mark": {"type": "rect", "stroke": "#555555", "strokeWidth": 1.2},
      "encoding": {
       "x": {"field": "mark", "type": "nominal", "sort": ["H3K4me1","H3K4me3","H3K27ac","H3K27me3","H3K9me3"], "scale": {"paddingInner": 0, "paddingOuter": 0},
             "axis": {"orient": "top", "title": null, "labelAngle": -45, "labelAlign": "left", "labelBaseline": "middle", "labelFontSize": 25, "labelFontWeight": "bold", "labelPadding": 6, "domain": false, "ticks": false}},
       "y": {"field": "state", "type": "nominal", "sort": ["1 Pr-A","2 Pr-W","3 En-A","4 En-P","5 Hc-P","6 Hc-C","7 Ns","8 Ns-D"], "scale": {"paddingInner": 0, "paddingOuter": 0},
             "axis": {"orient": "right", "title": null, "labelFontSize": 25, "labelFontWeight": "bold", "labelPadding": 10, "domain": false, "ticks": false}},
       "color": {"field": "v", "type": "quantitative", "scale": {"domain": [0, 0.5, 1], "range": ["#FFFFFF", "#F39200", "#8B4A0C"], "interpolate": "rgb"},
                 "legend": {"orient": "none", "legendX": 391, "legendY": -89, "direction": "horizontal", "gradientLength": 195, "gradientThickness": 24, "title": "Emmision Probability", "titleLimit": 400, "titleFontSize": 20, "titleFontWeight": "normal", "titleAnchor": "middle", "titlePadding": 10, "labelFontSize": 20, "values": [0, 1], "format": ".0f", "labelOffset": -12, "labelBaseline": "middle", "gradientStrokeColor": "black", "gradientStrokeWidth": 2, "padding": 0,
                            "encode": {"labels": {"update": {"align": {"signal": "datum.value <= 0 ? 'right' : 'left'"}, "dx": {"signal": "datum.value <= 0 ? -7 : 7"}}}}}}
      }},
     {"data": {"name": "dbox"}, "mark": {"type": "rect", "fillOpacity": 0, "stroke": "black", "strokeWidth": 2.5},
      "encoding": {"y": {"field": "grp", "type": "nominal", "sort": ["TSS Proximal","TSS Distal","Heterochromatin","Ns"], "scale": {"paddingInner": 0, "paddingOuter": 0}, "axis": null}}}
    ],
    "resolve": {"scale": {"y": "independent"}, "axis": {"y": "independent"}}
   },
   {"width": 114, "height": 1, "data": {"values": [{}]}, "mark": {"type": "rect", "opacity": 0}},
   {"width": 4, "height": 469,
    "data": {"name": "dlab"},
    "layer": [
     {"mark": {"type": "rect", "color": "black"},
      "encoding": {"y": {"field": "grp", "type": "nominal", "sort": ["TSS Proximal","TSS Distal","Heterochromatin","Ns"], "scale": {"domain": ["TSS Proximal","TSS Distal","Heterochromatin","Ns"], "paddingInner": 0.15, "paddingOuter": 0.075}, "axis": null}}},
     {"mark": {"type": "text", "fontSize": 25, "fontWeight": "bold", "align": "left", "baseline": "middle", "dx": 13},
      "encoding": {"y": {"field": "grp", "type": "nominal", "sort": ["TSS Proximal","TSS Distal","Heterochromatin","Ns"], "scale": {"domain": ["TSS Proximal","TSS Distal","Heterochromatin","Ns"], "paddingInner": 0.15, "paddingOuter": 0.075}, "axis": null}, "text": {"field": "grp"}}}
    ]
   },
   {"width": 445, "height": 1, "data": {"values": [{}]}, "mark": {"type": "rect", "opacity": 0},
    "title": {"text": "e", "fontSize": 46, "fontWeight": "bold", "anchor": "start", "frame": "group", "baseline": "alphabetic", "offset": 65, "dx": 335}},
   {"width": 637, "height": 469,
    "layer": [
     {"data": {"name": "e"}, "mark": {"type": "rect"},
      "encoding": {
       "x": {"field": "pos", "type": "ordinal", "scale": {"paddingInner": 0, "paddingOuter": 0}, "axis": null},
       "y": {"field": "state", "type": "nominal", "sort": ["1 Pr-A","2 Pr-W","3 En-A","4 En-P","5 Hc-P","6 Hc-C","7 Ns","8 Ns-D"], "scale": {"paddingInner": 0, "paddingOuter": 0},
             "axis": {"title": null, "labelFontSize": 25, "labelFontWeight": "bold", "labelPadding": 7, "domain": false, "ticks": false}},
       "color": {"field": "v", "type": "quantitative", "scale": {"domain": [0, 3, 7, 14, 20], "range": ["#FFFFFF", "#D8E0EB", "#A3B8D2", "#2F69A3", "#0A4C8D"], "interpolate": "rgb"},
                 "legend": {"orient": "none", "legendX": 672, "legendY": 66, "direction": "vertical", "gradientLength": 206, "gradientThickness": 26, "title": "Fold Enrichment", "titleLimit": 400, "titleFontSize": 24, "titleFontWeight": "normal", "titlePadding": 28, "labelFontSize": 24, "values": [0, 20], "labelOffset": 5, "gradientStrokeColor": "black", "gradientStrokeWidth": 2, "padding": 0,
                            "encode": {"title": {"update": {"dx": {"value": -21}}}}}}
      }},
     {"data": {"values": [{}]},
      "layer": [
       {"mark": {"type": "rule", "color": "#231815", "strokeWidth": 4, "strokeCap": "square"},
        "encoding": {"x": {"datum": 0, "type": "quantitative", "scale": {"domain": [-10.5, 10.5], "nice": false, "zero": false},
                           "axis": {"orient": "top", "values": [-10.5, 10.5], "labelExpr": "datum.value < 0 ? '-10kb' : '10kb'", "labelFlush": true, "labelFontSize": 24, "labelPadding": 5, "domain": false, "ticks": false, "title": null}},
                     "y": {"datum": 8, "type": "quantitative", "scale": {"domain": [0, 8], "nice": false, "zero": false}, "axis": null},
                     "y2": {"datum": 8.31}}},
       {"mark": {"type": "rule", "color": "#231815", "strokeWidth": 4, "strokeCap": "square"},
        "encoding": {"x": {"datum": 0, "type": "quantitative", "scale": {"domain": [-10.5, 10.5], "nice": false, "zero": false}},
                     "x2": {"datum": 2.2},
                     "y": {"datum": 8.31, "type": "quantitative", "scale": {"domain": [0, 8], "nice": false, "zero": false}}}},
       {"mark": {"type": "point", "shape": "triangle-right", "filled": true, "color": "#231815", "size": 160, "opacity": 1},
        "encoding": {"x": {"datum": 2.25, "type": "quantitative", "scale": {"domain": [-10.5, 10.5], "nice": false, "zero": false}},
                     "y": {"datum": 8.31, "type": "quantitative", "scale": {"domain": [0, 8], "nice": false, "zero": false}}}},
       {"mark": {"type": "text", "text": "TSS", "fontSize": 25, "fontWeight": "bold", "align": "center", "baseline": "middle"},
        "encoding": {"x": {"datum": 0.45, "type": "quantitative", "scale": {"domain": [-10.5, 10.5], "nice": false, "zero": false}},
                     "y": {"datum": 8.75, "type": "quantitative", "scale": {"domain": [0, 8], "nice": false, "zero": false}}}},
       {"mark": {"type": "rect", "fillOpacity": 0, "stroke": "black", "strokeWidth": 2.5}, "encoding": {}}
      ]
     }
    ],
    "resolve": {"scale": {"x": "independent", "y": "independent"}, "axis": {"x": "independent", "y": "independent"}}
   }
  ]
 }
]
}
